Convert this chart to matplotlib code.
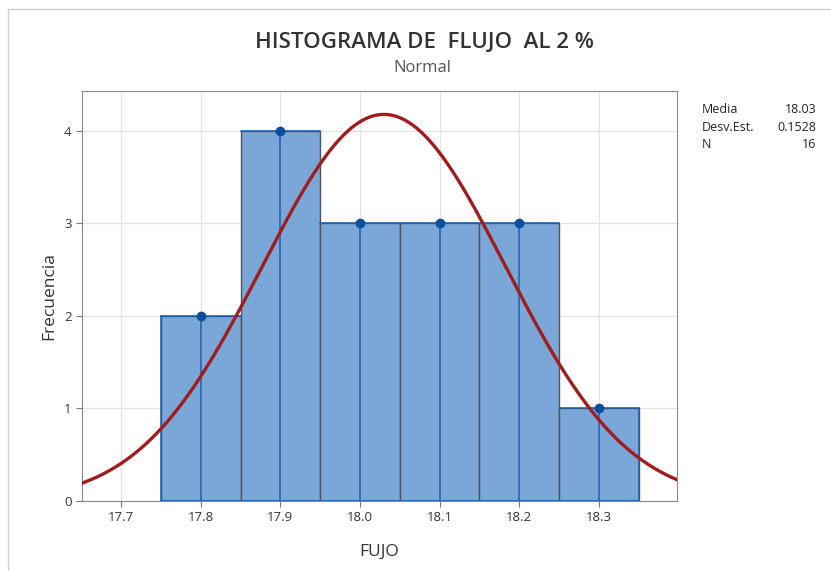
import numpy as np
import matplotlib.pyplot as plt

plt.rcParams['font.family'] = ['Open Sans', 'DejaVu Sans']

# datos
centros = [17.8, 17.9, 18.0, 18.1, 18.2, 18.3]
frecuencias = [2, 4, 3, 3, 3, 1]
ancho = 0.1
media = 18.03
desv = 0.1528
n = 16
xticks = [17.7, 17.8, 17.9, 18.0, 18.1, 18.2, 18.3]
yticks = [0, 1, 2, 3, 4]

fig = plt.figure(figsize=(8.31, 5.71), dpi=100)
ax = fig.add_axes([0.0987, 0.1226, 0.716, 0.718])

ax.grid(True, color='#e3e3e3', linewidth=0.9, zorder=0)
ax.set_axisbelow(True)

ax.bar(centros, frecuencias, width=ancho, color='#7aa6d8', edgecolor='#4a5560',
       linewidth=1.0, zorder=2)
# borde exterior azul
izq = centros[0] - ancho / 2
der = centros[-1] + ancho / 2
for c, f in zip(centros, frecuencias):
    ax.plot([c - ancho / 2, c + ancho / 2], [f, f], color='#1c5fae', lw=1.1, zorder=3)
ax.plot([izq, izq], [0, frecuencias[0]], color='#1c5fae', lw=1.1, zorder=3)
ax.plot([der, der], [0, frecuencias[-1]], color='#1c5fae', lw=1.1, zorder=3)
ax.plot([izq, der], [0, 0], color='#1c5fae', lw=1.1, zorder=3)

# lineas de proyeccion con puntos
ax.vlines(centros, 0, frecuencias, color='#1c5fae', lw=1.1, zorder=3)
ax.plot(centros, frecuencias, 'o', color='#0b4f9e', ms=6, zorder=5)

# curva normal
xs = np.linspace(17.6, 18.45, 400)
ys = n * ancho * np.exp(-0.5 * ((xs - media) / desv) ** 2) / (desv * np.sqrt(2 * np.pi))
ax.plot(xs, ys, color='#a11d1d', lw=2.4, zorder=4)

ax.set_xlim(17.651, 18.398)
ax.set_ylim(0, 4.43)
ax.set_xticks(xticks)
ax.set_xticklabels([f'{t:.1f}' for t in xticks])
ax.set_yticks(yticks)
ax.tick_params(labelsize=9.5, color='#777777', colors='#333333', length=4)
for s in ax.spines.values():
    s.set_color('#888888')

ax.set_xlabel('FUJO', fontsize=12.5, color='#333333', labelpad=14)
ax.set_ylabel('Frecuencia', fontsize=12.5, color='#333333', labelpad=5)

fig.text(0.511, 0.925, 'HISTOGRAMA DE  FLUJO  AL 2 %', ha='center', va='center',
         fontsize=16, fontweight='semibold', color='#333333')
fig.text(0.508, 0.881, 'Normal', ha='center', va='center', fontsize=12, color='#555555')

# tabla de estadisticas
etiquetas = ['Media', 'Desv.Est.', 'N']
valores = ['18.03', '0.1528', '16']
for i, (e, v) in enumerate(zip(etiquetas, valores)):
    y = 0.808 - i * 0.0305
    fig.text(0.845, y, e, ha='left', va='center', fontsize=9, color='#222222')
    fig.text(0.982, y, v, ha='right', va='center', fontsize=9, color='#222222')

# marco tenue
fig.add_artist(plt.Line2D([0.01, 1], [0.985, 0.985], color='#d0d0d0', lw=1))
fig.add_artist(plt.Line2D([0.01, 0.01], [0, 0.985], color='#d0d0d0', lw=1))

fig.savefig('out.png', dpi=100)
